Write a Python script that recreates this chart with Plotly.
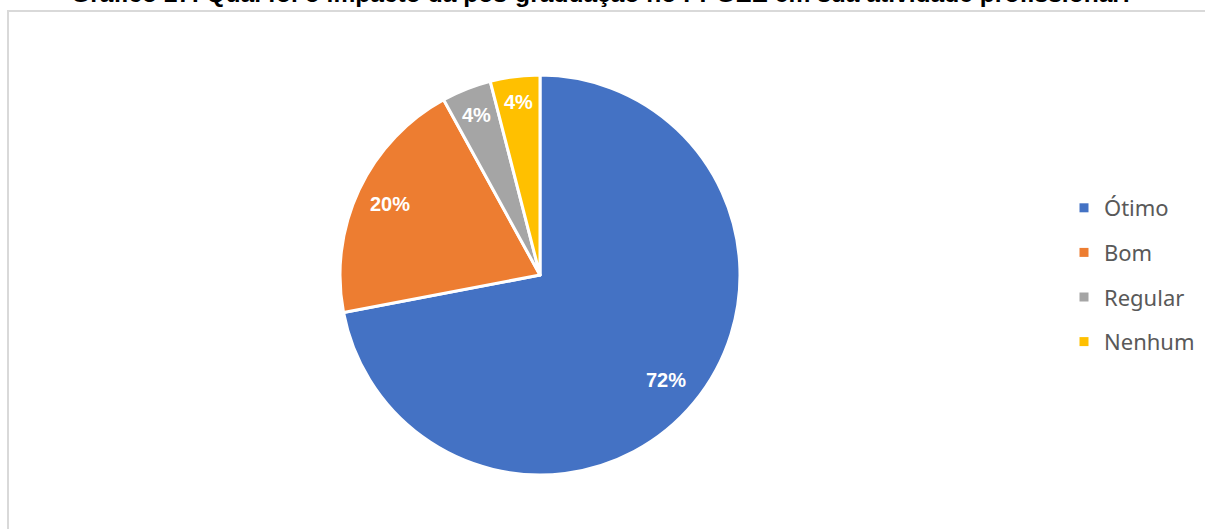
import math
import plotly.graph_objects as go

labels = ["Ótimo", "Bom", "Regular", "Nenhum"]
values = [72, 20, 4, 4]
colors = ["#4472C4", "#ED7D31", "#A5A5A5", "#FFC000"]
title = "Gráfico 27: Qual foi o impacto da pós-graduação no PPGEE em sua atividade profissional?"

W, H = 1205, 529
CX, CY, R = 540, 275, 200  # pie centre / radius in pixels
LABEL_FRAC = [0.82, 0.83, 0.86, 0.87]

fig = go.Figure()
fig.add_trace(go.Pie(
    labels=labels,
    values=values,
    sort=False,
    direction="clockwise",
    rotation=0,
    marker=dict(colors=colors, line=dict(color="white", width=3)),
    textposition="none",
    domain=dict(x=[(CX - R) / W, (CX + R) / W], y=[1 - (CY + R + 1) / H, 1 - (CY - R - 1) / H]),
    hoverinfo="label+percent",
    showlegend=False,
))

# legend entries (dummy traces so the gap between entries can be set)
for lab, col in zip(labels, colors):
    fig.add_trace(go.Scatter(
        x=[None], y=[None], mode="markers", name=lab, legendgroup=lab,
        marker=dict(symbol="square", size=9, color=col),
        showlegend=True,
    ))

# percentage labels, placed along each slice bisector
total = sum(values)
annotations = []
cum = 0
for v, frac in zip(values, LABEL_FRAC):
    mid = (cum + v / 2) / total * 2 * math.pi
    cum += v
    px = CX + frac * R * math.sin(mid)
    py = CY - frac * R * math.cos(mid)
    annotations.append(dict(
        text=f"<b>{round(v / total * 100)}%</b>", xref="paper", yref="paper",
        x=px / W, y=1 - py / H, xanchor="center", yanchor="middle", showarrow=False,
        font=dict(family="Liberation Sans, Arial", size=20, color="white"),
    ))

annotations.append(dict(
    text="<b>" + title + "</b>", xref="paper", yref="paper", x=0.5, y=1 - 9 / H,
    xanchor="center", yanchor="bottom", showarrow=False,
    font=dict(family="Liberation Sans, Arial", size=24.6, color="black"),
))

fig.update_layout(
    width=W, height=H,
    margin=dict(l=0, r=0, t=0, b=0),
    paper_bgcolor="white",
    plot_bgcolor="white",
    xaxis=dict(visible=False),
    yaxis=dict(visible=False),
    showlegend=True,
    legend=dict(
        x=1064 / W, y=1 - 275 / H, xanchor="left", yanchor="middle",
        font=dict(family="Noto Sans", size=22, color="#595959"),
        tracegroupgap=13,
        itemwidth=30,
    ),
    shapes=[
        dict(type="line", xref="paper", yref="paper", x0=7 / W, x1=1.0, y0=1 - 11 / H, y1=1 - 11 / H,
             line=dict(color="#D9D9D9", width=2)),
        dict(type="line", xref="paper", yref="paper", x0=8 / W, x1=8 / W, y0=1 - 11 / H, y1=0,
             line=dict(color="#D9D9D9", width=2)),
    ],
    annotations=annotations,
)

fig.write_html(
    "out.html",
    config={"displayModeBar": False},
    post_script="document.body.style.margin='0';document.body.style.overflow='hidden';",
)
